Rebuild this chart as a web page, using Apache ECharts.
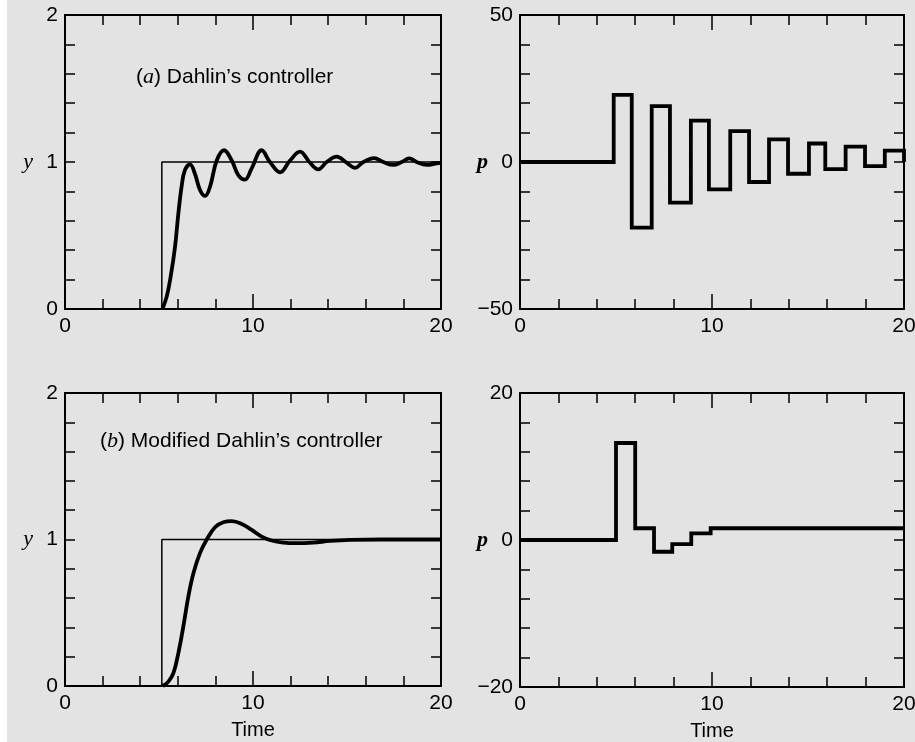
<!DOCTYPE html>
<html>
<head>
<meta charset="utf-8">
<title>Dahlin's controller responses</title>
<script src="https://cdn.jsdelivr.net/npm/echarts@6/dist/echarts.min.js"></script>
<style>
  html, body { margin: 0; padding: 0; }
  body { width: 915px; height: 742px; background: linear-gradient(to right, #ffffff 7px, #e3e3e3 7px); }
  #chart { width: 915px; height: 742px; }
</style>
</head>
<body>
<div id="chart"></div>
<script>
// Setpoint step (thin line) shared by both output panels
const setpointTime = [5.15, 5.15, 20];
const setpointValue = [0, 1, 1];

// (a) Dahlin's controller: controlled output y(t)
const timeA = [5.18, 5.41, 5.62, 5.85, 6.03, 6.21, 6.38, 6.65, 6.91, 7.18, 7.45, 7.71, 8.07, 8.46, 8.87, 9.22, 9.57, 9.93,
  10.46, 10.9, 11.44, 11.97, 12.5, 13.0, 13.47, 13.92, 14.45, 14.98, 15.43, 15.87, 16.44, 16.93, 17.46, 17.91,
  18.31, 18.7, 19.24, 19.77, 20];
const outputA = [0, 0.084, 0.22, 0.42, 0.65, 0.84, 0.946, 0.984, 0.92, 0.81, 0.769, 0.83, 1.01, 1.08, 1.01, 0.91, 0.88, 0.957,
  1.08, 1.0, 0.93, 1.01, 1.07, 1.0, 0.95, 1.0, 1.036, 0.995, 0.96, 1.0, 1.027, 1.0, 0.98, 1.0,
  1.025, 1.0, 0.98, 0.99, 0.995];

// (a) controller output p, piecewise constant between sampling instants
const stepTimeA = [0, 4.88, 5.82, 6.86, 7.81, 8.9, 9.84, 10.95, 11.93, 12.97, 13.96, 15.05, 15.9, 16.96, 17.97, 19.0, 20];
const stepValueA = [0, 22.8, -22.3, 19.0, -13.8, 14.1, -9.3, 10.5, -6.8, 7.7, -4.0, 6.3, -2.4, 5.2, -1.4, 3.9, 0];

// (b) Modified Dahlin's controller: controlled output y(t)
const timeB = [5.2, 5.5, 5.77, 6.03, 6.3, 6.56, 6.83, 7.18, 7.54, 7.98, 8.42, 8.87, 9.4, 9.93, 10.46, 10.99, 11.61, 12.32,
  13.2, 14.1, 15.16, 16.9, 20];
const outputB = [0, 0.03, 0.089, 0.225, 0.41, 0.61, 0.77, 0.907, 1.0, 1.084, 1.118, 1.125, 1.106, 1.065, 1.02, 0.993, 0.979, 0.975,
  0.979, 0.99, 0.997, 1.0, 1.0];

// (b) controller output p
const stepTimeB = [0, 5.0, 6.0, 6.98, 7.93, 8.92, 9.93, 20];
const stepValueB = [0, 13.2, 1.6, -1.6, -0.55, 0.9, 1.6, 1.6];

// Axis ranges and label ticks
const timeRange = [0, 20, 10];
const yRange = [0, 2, 1];
const pRangeA = [-50, 50, 50];
const pRangeB = [-20, 20, 20];

const pairs = (xs, ys) => xs.map((x, i) => [x, ys[i]]);
const minusFmt = v => (v < 0 ? '\u2212' + Math.abs(v) : String(v));

const labelFont = { fontFamily: 'Liberation Sans', fontSize: 21, color: '#000' };

function xAxis(gridIndex, position, withLabels, name) {
  return {
    type: 'value', gridIndex, position,
    min: timeRange[0], max: timeRange[1], interval: timeRange[2],
    name: name || '', nameLocation: 'middle', nameGap: 34, nameMoveOverlap: false,
    nameTextStyle: { fontFamily: 'Liberation Sans', fontSize: 20, color: '#000' },
    axisLine: { show: true, onZero: false, lineStyle: { color: '#000', width: 2 } },
    axisTick: { show: true, inside: true, length: 15, lineStyle: { color: '#000', width: 1.5 } },
    minorTick: { show: true, splitNumber: 5, length: 10, lineStyle: { color: '#000', width: 1.5 } },
    splitLine: { show: false }, minorSplitLine: { show: false },
    axisLabel: Object.assign({ show: withLabels, margin: 7, formatter: minusFmt, hideOverlap: false }, labelFont)
  };
}

function yAxis(gridIndex, position, range, withLabels, name, bold) {
  return {
    type: 'value', gridIndex, position,
    min: range[0], max: range[1], interval: range[2],
    name: name || '', nameLocation: 'middle', nameRotate: 0, nameGap: 32, nameMoveOverlap: false,
    nameTextStyle: { fontFamily: 'Liberation Serif', fontStyle: 'italic', fontWeight: bold ? 'bold' : 'normal', fontSize: 22, color: '#000' },
    axisLine: { show: true, onZero: false, lineStyle: { color: '#000', width: 2 } },
    axisTick: { show: true, inside: true, length: 10, lineStyle: { color: '#000', width: 1.5 } },
    minorTick: { show: true, splitNumber: 5, length: 10, lineStyle: { color: '#000', width: 1.5 } },
    splitLine: { show: false }, minorSplitLine: { show: false },
    axisLabel: Object.assign({ show: withLabels, margin: 7, formatter: minusFmt, hideOverlap: false }, labelFont)
  };
}

const grids = [
  { left: 65, top: 15, width: 376, height: 294 },
  { left: 520, top: 15, width: 384, height: 294 },
  { left: 65, top: 393, width: 376, height: 293 },
  { left: 520, top: 393, width: 384, height: 294 }
].map(g => Object.assign({ containLabel: false, outerBoundsMode: 'none', show: false }, g));

const xAxes = [
  xAxis(0, 'bottom', true), xAxis(0, 'top', false),
  xAxis(1, 'bottom', true), xAxis(1, 'top', false),
  xAxis(2, 'bottom', true, 'Time'), xAxis(2, 'top', false),
  xAxis(3, 'bottom', true, 'Time'), xAxis(3, 'top', false)
];

const yAxes = [
  yAxis(0, 'left', yRange, true, 'y', false), yAxis(0, 'right', yRange, false),
  yAxis(1, 'left', pRangeA, true, 'p', true), yAxis(1, 'right', pRangeA, false),
  yAxis(2, 'left', yRange, true, 'y', false), yAxis(2, 'right', yRange, false),
  yAxis(3, 'left', pRangeB, true, 'p', true), yAxis(3, 'right', pRangeB, false)
];

const thin = { color: '#000', width: 1.5 };
const thick = { color: '#000', width: 3.8 };

const series = [
  { type: 'line', xAxisIndex: 0, yAxisIndex: 0, data: pairs(setpointTime, setpointValue), symbol: 'none', lineStyle: thin, clip: false, silent: true },
  { type: 'line', xAxisIndex: 0, yAxisIndex: 0, data: pairs(timeA, outputA), symbol: 'none', smooth: 0.4, lineStyle: thick, clip: false },
  { type: 'line', xAxisIndex: 2, yAxisIndex: 2, data: pairs(stepTimeA, stepValueA), symbol: 'none', step: 'end', lineStyle: Object.assign({ join: 'miter' }, thick), clip: false },
  { type: 'line', xAxisIndex: 4, yAxisIndex: 4, data: pairs(setpointTime, setpointValue), symbol: 'none', lineStyle: thin, clip: false, silent: true },
  { type: 'line', xAxisIndex: 4, yAxisIndex: 4, data: pairs(timeB, outputB), symbol: 'none', smooth: 0.4, lineStyle: thick, clip: false },
  { type: 'line', xAxisIndex: 6, yAxisIndex: 6, data: pairs(stepTimeB, stepValueB), symbol: 'none', step: 'end', lineStyle: Object.assign({ join: 'miter' }, thick), clip: false }
];

const panelTitle = (text, left, top) => ({
  text, left, top,
  textStyle: {
    fontFamily: 'Liberation Sans', fontSize: 21, fontWeight: 'normal', color: '#000',
    rich: { it: { fontFamily: 'Liberation Serif', fontStyle: 'italic', fontSize: 22, color: '#000' } }
  }
});

const chart = echarts.init(document.getElementById('chart'), null, { renderer: 'canvas' });
chart.setOption({
  backgroundColor: 'transparent',
  animation: false,
  title: [
    panelTitle('({it|a}) Dahlin\u2019s controller', 131, 61),
    panelTitle('({it|b}) Modified Dahlin\u2019s controller', 95, 425)
  ],
  grid: grids,
  xAxis: xAxes,
  yAxis: yAxes,
  series
});
</script>
</body>
</html>
